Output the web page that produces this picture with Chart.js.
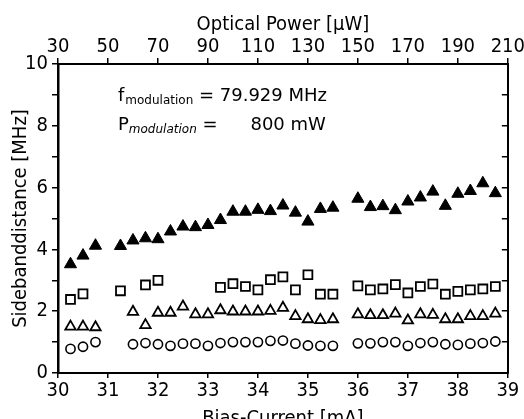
<!DOCTYPE html>
<html>
<head>
<meta charset="utf-8">
<script src="https://cdn.jsdelivr.net/npm/chart.js@4.4.1/dist/chart.umd.min.js"></script>
<style>
  html, body { margin: 0; padding: 0; background: #fff; }
  #wrap { width: 524px; height: 419px; }
</style>
</head>
<body>
<div id="wrap"><canvas id="chart" width="524" height="419"></canvas></div>
<script>
// bias current of each measurement [mA]
var current = [30.25, 30.5, 30.75, 31.25, 31.5, 31.75, 32, 32.25, 32.5, 32.75, 33,
               33.25, 33.5, 33.75, 34, 34.25, 34.5, 34.75, 35, 35.25, 35.5,
               36, 36.25, 36.5, 36.75, 37, 37.25, 37.5, 37.75, 38, 38.25, 38.5, 38.75];

// sideband distances [MHz], null = no point at that current
var filledTri = [3.52, 3.80, 4.12, 4.11, 4.29, 4.36, 4.33, 4.58, 4.74, 4.72, 4.79,
                 4.95, 5.22, 5.22, 5.28, 5.24, 5.42, 5.19, 4.90, 5.31, 5.35,
                 5.64, 5.37, 5.40, 5.27, 5.55, 5.68, 5.87, 5.41, 5.80, 5.89, 6.14, 5.82];
var squares   = [2.38, 2.56, null, 2.66, null, 2.85, 3.00, null, null, null, null,
                 2.77, 2.89, 2.80, 2.69, 3.02, 3.11, 2.69, 3.18, 2.55, 2.55,
                 2.82, 2.69, 2.72, 2.86, 2.59, 2.80, 2.88, 2.55, 2.64, 2.69, 2.72, 2.80];
var openTri   = [1.50, 1.50, 1.48, null, 1.98, 1.55, 1.95, 1.95, 2.15, 1.90, 1.90,
                 2.03, 1.99, 1.99, 1.99, 2.01, 2.11, 1.84, 1.74, 1.71, 1.74,
                 1.90, 1.87, 1.87, 1.92, 1.70, 1.90, 1.88, 1.74, 1.74, 1.84, 1.84, 1.92];
var circles   = [0.78, 0.85, 1.00, null, 0.93, 0.97, 0.93, 0.88, 0.95, 0.95, 0.88,
                 0.97, 1.00, 1.00, 1.00, 1.04, 1.05, 0.95, 0.89, 0.88, 0.88,
                 0.96, 0.96, 1.00, 1.00, 0.88, 0.97, 1.00, 0.93, 0.91, 0.95, 0.97, 1.02];

var xTitle = 'Bias-Current [mA]';
var x2Title = 'Optical Power [\u00b5W]';
var yTitle = 'Sidebanddistance [MHz]';

var TICKFONT = "'DejaVu Sans Condensed', 'DejaVu Sans', sans-serif";
var TEXTFONT = "'DejaVu Sans', sans-serif";

function points(values){
    return current.map(function(c, i){ return {x: c, y: values[i]}; })
                  .filter(function(p){ return p.y !== null; });
}

// the two parameter lines inside the plot
var annotation = {
    id: 'annotation',
    afterDraw: function(chart){
        var ctx = chart.ctx;
        var xs = chart.scales.x, ys = chart.scales.y;
        var x0 = xs.getPixelForValue(31.2);
        var big = '18px ' + TEXTFONT;
        var small = '12px ' + TEXTFONT;
        var smallIt = 'italic 12px ' + TEXTFONT;
        ctx.save();
        ctx.fillStyle = '#000';
        ctx.textBaseline = 'alphabetic';
        ctx.textAlign = 'left';

        var y1 = ys.getPixelForValue(8.8);
        var x = x0;
        ctx.font = big; ctx.fillText('f', x, y1); x += ctx.measureText('f').width + 1;
        ctx.font = small; ctx.fillText('modulation', x, y1 + 3); x += ctx.measureText('modulation').width;
        ctx.font = big; ctx.fillText(' = 79.929 MHz', x, y1);

        var y2 = ys.getPixelForValue(7.86);
        x = x0;
        ctx.font = big; ctx.fillText('P', x, y2); x += ctx.measureText('P').width;
        ctx.font = smallIt; ctx.fillText('modulation', x, y2 + 3); x += ctx.measureText('modulation').width;
        ctx.font = big; ctx.fillText(' =', x, y2);
        ctx.fillText('800 mW', xs.getPixelForValue(33.85), y2);
        ctx.restore();
    }
};

window.onload = function(){
    var ctx = document.getElementById('chart');
    var tickFont = {family: TICKFONT, size: 20};
    var titleFont = {family: TICKFONT, size: 20};

    new Chart(ctx, {
        type: 'scatter',
        data: {
            datasets: [
                {
                    data: points(filledTri),
                    pointStyle: 'triangle',
                    pointRadius: 7,
                    backgroundColor: '#000',
                    borderColor: '#000',
                    borderWidth: 1
                },
                {
                    data: points(squares),
                    pointStyle: 'rect',
                    pointRadius: 6.3,
                    backgroundColor: '#fff',
                    borderColor: '#000',
                    borderWidth: 1.8
                },
                {
                    data: points(openTri),
                    pointStyle: 'triangle',
                    pointRadius: 6,
                    backgroundColor: '#fff',
                    borderColor: '#000',
                    borderWidth: 1.8
                },
                {
                    data: points(circles),
                    pointStyle: 'circle',
                    pointRadius: 4.6,
                    backgroundColor: '#fff',
                    borderColor: '#000',
                    borderWidth: 1.6
                }
            ]
        },
        options: {
            responsive: false,
            animation: false,
            events: [],
            layout: {padding: {left: 0, right: 13, top: 0, bottom: 0}},
            plugins: {legend: {display: false}, tooltip: {enabled: false}},
            scales: {
                x: {
                    type: 'linear',
                    position: 'bottom',
                    min: 30, max: 39,
                    ticks: {stepSize: 1, color: '#000', font: tickFont, padding: 1, maxRotation: 0},
                    grid: {drawOnChartArea: false, drawTicks: true, tickLength: 5, color: '#000', lineWidth: 1.5},
                    border: {color: '#000', width: 2},
                    title: {display: true, text: xTitle, color: '#000', font: titleFont, padding: {top: 0, bottom: -12}},
                    afterFit: function(s){ s.height = 46; }
                },
                x2: {
                    type: 'linear',
                    position: 'top',
                    min: 30, max: 210,
                    ticks: {stepSize: 20, color: '#000', font: tickFont, padding: -1, maxRotation: 0},
                    grid: {drawOnChartArea: false, drawTicks: true, tickLength: 6, color: '#000', lineWidth: 1.5},
                    border: {color: '#000', width: 2},
                    title: {display: true, text: x2Title, color: '#000', font: titleFont, padding: {top: 13, bottom: 0}},
                    afterFit: function(s){ s.height = 64; }
                },
                y: {
                    type: 'linear',
                    position: 'left',
                    min: 0, max: 10,
                    ticks: {
                        stepSize: 1, color: '#000', font: tickFont, padding: 4,
                        callback: function(v){ return v % 2 === 0 ? v : ''; }
                    },
                    grid: {drawOnChartArea: false, drawTicks: true, tickLength: 6, color: '#000', lineWidth: 1.5},
                    border: {color: '#000', width: 2.5},
                    title: {display: true, text: yTitle, color: '#000', font: titleFont, padding: {top: 9, bottom: 0}},
                    afterFit: function(s){ s.width = 58; }
                },
                y2: {
                    type: 'linear',
                    position: 'right',
                    min: 0, max: 10,
                    ticks: {display: false, stepSize: 1},
                    grid: {drawOnChartArea: false, drawTicks: true, tickLength: -6, color: '#000', lineWidth: 1.5},
                    border: {color: '#000', width: 2},
                    afterFit: function(s){ s.width = 0; }
                }
            }
        },
        plugins: [annotation]
    });
};
</script>
</body>
</html>
